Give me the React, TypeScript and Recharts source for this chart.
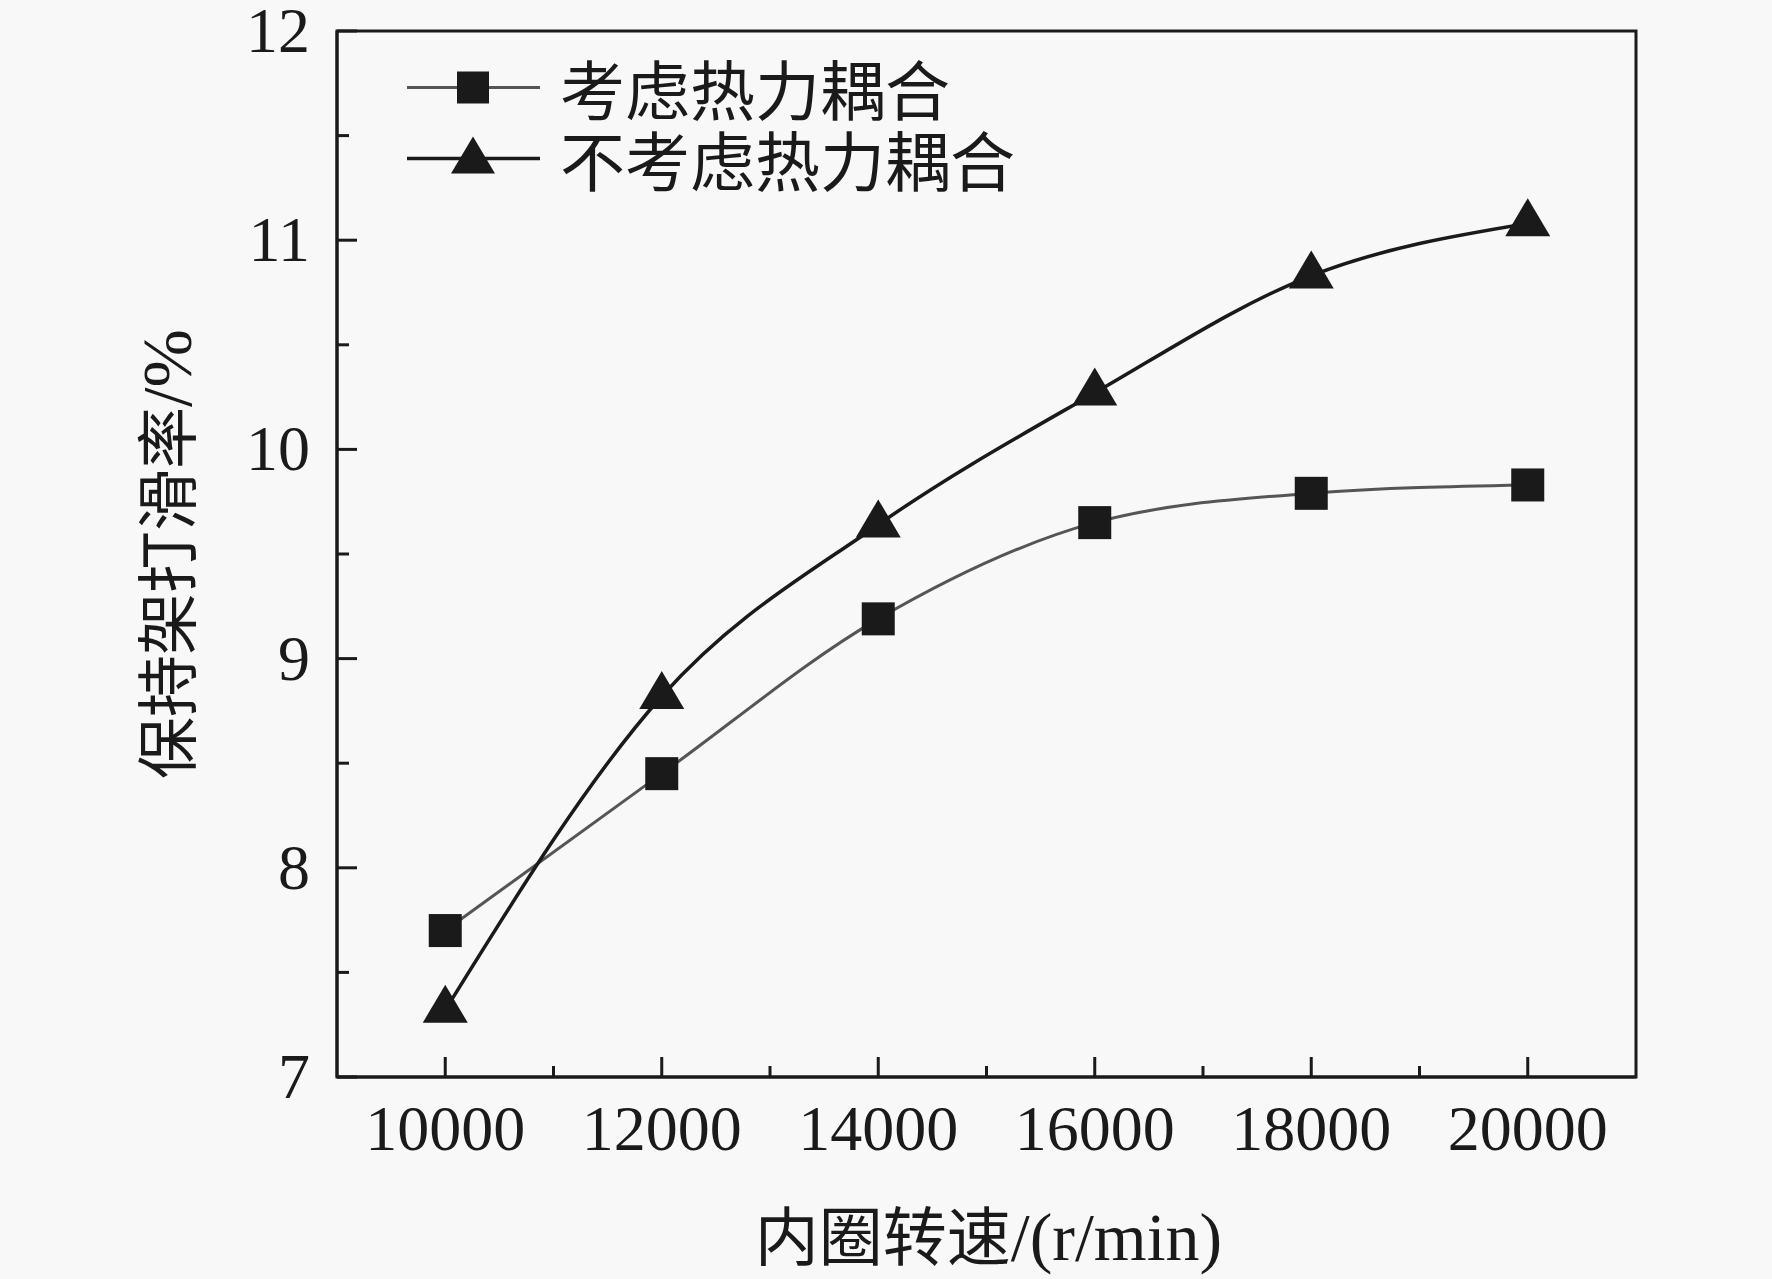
import React from "react";
import {
  LineChart,
  Line,
  XAxis,
  YAxis,
  Legend,
  Label,
  ReferenceArea,
} from "recharts";

// inner-ring speed (r/min)
const speeds = [10000, 12000, 14000, 16000, 18000, 20000];
// cage slip ratio (%), with thermal coupling
const coupled = [7.7, 8.45, 9.19, 9.65, 9.79, 9.83];
// cage slip ratio (%), without thermal coupling
const uncoupled = [7.32, 8.82, 9.64, 10.27, 10.83, 11.08];

const seriesNames = ["考虑热力耦合", "不考虑热力耦合"];
const xTicks = [10000, 11000, 12000, 13000, 14000, 15000, 16000, 17000, 18000, 19000, 20000];
const yTicks = [7, 7.5, 8, 8.5, 9, 9.5, 10, 10.5, 11, 11.5, 12];

const data = speeds.map((s, i) => ({ speed: s, coupled: coupled[i], uncoupled: uncoupled[i] }));

const INK = "#1a1a1a";
const SERIF = "'Liberation Serif', 'Times New Roman', 'Noto Sans CJK SC', serif";

function SquareDot(props: any) {
  const { cx, cy, index } = props;
  const s = 33;
  return <rect key={`sq-${index}`} x={cx - s / 2} y={cy - s / 2} width={s} height={s} fill={INK} />;
}

function TriangleDot(props: any) {
  const { cx, cy, index } = props;
  const w = 45;
  const h = 38;
  // centroid on the data point
  const top = cy - (2 * h) / 3;
  const bot = cy + h / 3;
  return (
    <path
      key={`tr-${index}`}
      d={`M${cx},${top} L${cx + w / 2},${bot} L${cx - w / 2},${bot} Z`}
      fill={INK}
    />
  );
}

function XTick(props: any) {
  const { x, y, payload } = props;
  const major = speeds.includes(payload.value);
  return (
    <g>
      <line x1={x} y1={y} x2={x} y2={y - (major ? 20 : 11)} stroke={INK} strokeWidth={3} />
      {major && (
        <text x={x} y={y + 73} textAnchor="middle" fontSize={64} fontFamily={SERIF} fill={INK}>
          {payload.value}
        </text>
      )}
    </g>
  );
}

function YTick(props: any) {
  const { x, y, payload } = props;
  const major = Number.isInteger(payload.value);
  return (
    <g>
      <line x1={x} y1={y} x2={x + (major ? 20 : 12)} y2={y} stroke={INK} strokeWidth={3} />
      {major && (
        <text x={x - 27} y={y + 21} textAnchor="end" fontSize={64} fontFamily={SERIF} fill={INK}>
          {payload.value}
        </text>
      )}
    </g>
  );
}

function XTitle(props: any) {
  const { viewBox } = props;
  return (
    <text
      x={viewBox.x + viewBox.width / 2 + 2}
      y={viewBox.y + 183}
      textAnchor="middle"
      fontSize={64}
      fontFamily={SERIF}
      fill={INK}
    >
      <tspan>内圈转速</tspan>
      <tspan fontSize={68}>/(r/min)</tspan>
    </text>
  );
}

function YTitle(props: any) {
  const { viewBox } = props;
  const cx = 167;
  const cy = viewBox.y + viewBox.height / 2;
  return (
    <text
      x={cx}
      y={cy}
      dy="0.38em"
      transform={`rotate(-90, ${cx}, ${cy})`}
      textAnchor="middle"
      fontSize={62}
      fontFamily={SERIF}
      fill={INK}
    >
      <tspan>保持架打滑率</tspan>
      <tspan fontSize={70}>/%</tspan>
    </text>
  );
}

function LegendBox() {
  const rows = [
    { name: seriesNames[0], stroke: "#555", width: 3, shape: "square" },
    { name: seriesNames[1], stroke: INK, width: 3.5, shape: "triangle" },
  ];
  return (
    <div>
      {rows.map((r) => (
        <div key={r.name} style={{ display: "flex", alignItems: "center", height: 71 }}>
          <svg width={133} height={71} style={{ display: "block" }}>
            <line x1={0} y1={35.5} x2={133} y2={35.5} stroke={r.stroke} strokeWidth={r.width} />
            {r.shape === "square" ? (
              <rect x={66 - 16} y={35.5 - 16} width={32} height={32} fill={INK} />
            ) : (
              <path d={`M66,${35.5 - 22} L${66 + 22},${35.5 + 15} L${66 - 22},${35.5 + 15} Z`} fill={INK} />
            )}
          </svg>
          <span
            style={{
              marginLeft: 20,
              fontSize: 65,
              lineHeight: "71px",
              fontFamily: "'Noto Sans CJK SC', sans-serif",
              color: INK,
              whiteSpace: "nowrap",
            }}
          >
            {r.name}
          </span>
        </div>
      ))}
    </div>
  );
}

export default function App() {
  return (
    <div style={{ position: "absolute", left: 0, top: 0, width: 1772, height: 1279, background: "#f8f8f8" }}>
      <LineChart
        width={1772}
        height={1279}
        data={data}
        margin={{ top: 31, right: 136, left: 0, bottom: 0 }}
      >
        <XAxis
          dataKey="speed"
          type="number"
          domain={[9000, 21000]}
          ticks={xTicks}
          interval={0}
          height={202}
          tickSize={0}
          tickMargin={0}
          tickLine={false}
          tick={<XTick />}
          axisLine={{ stroke: INK, strokeWidth: 3 }}
        >
          <Label content={<XTitle />} />
        </XAxis>
        <YAxis
          type="number"
          domain={[7, 12]}
          ticks={yTicks}
          interval={0}
          width={337}
          tickSize={0}
          tickMargin={0}
          tickLine={false}
          tick={<YTick />}
          axisLine={{ stroke: INK, strokeWidth: 3 }}
        >
          <Label content={<YTitle />} />
        </YAxis>
        <ReferenceArea x1={9000} x2={21000} y1={7} y2={12} fill="none" stroke={INK} strokeWidth={3} />
        <Legend
          layout="vertical"
          verticalAlign="middle"
          align="center"
          wrapperStyle={{ top: 52, left: 407, width: 700, height: 142 }}
          content={<LegendBox />}
        />
        <Line
          type="monotone"
          dataKey="coupled"
          name={seriesNames[0]}
          stroke="#555"
          strokeWidth={3}
          dot={<SquareDot />}
          activeDot={false}
          isAnimationActive={false}
        />
        <Line
          type="monotone"
          dataKey="uncoupled"
          name={seriesNames[1]}
          stroke={INK}
          strokeWidth={3.5}
          dot={<TriangleDot />}
          activeDot={false}
          isAnimationActive={false}
        />
      </LineChart>
    </div>
  );
}
